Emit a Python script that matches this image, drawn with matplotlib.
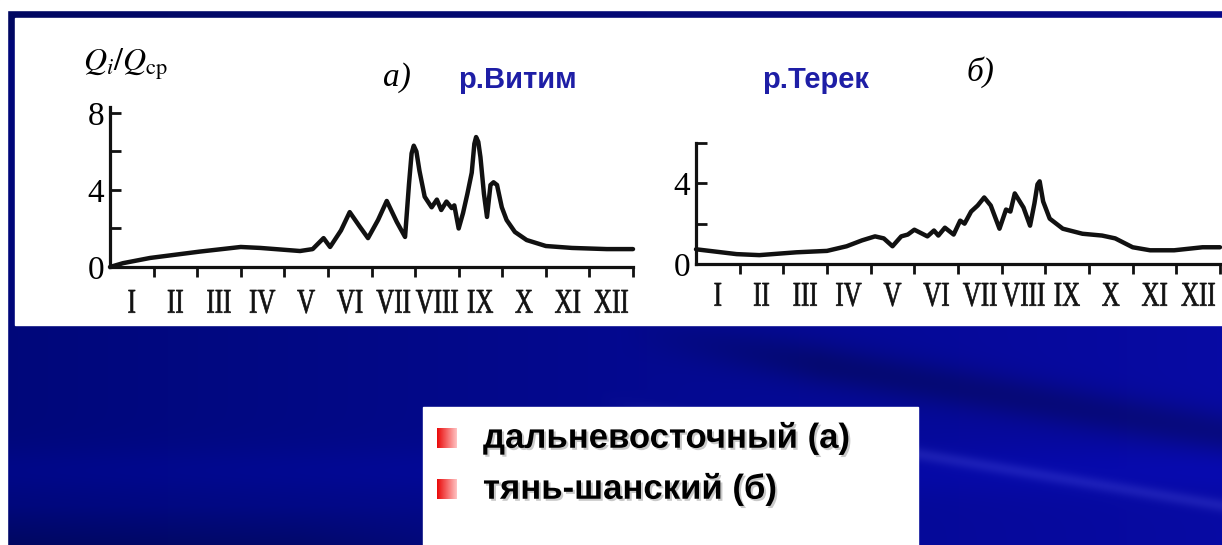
import numpy as np
import matplotlib.pyplot as plt
from matplotlib.patches import Rectangle, PathPatch
from matplotlib.textpath import TextPath
from matplotlib.font_manager import FontProperties
import matplotlib.transforms as mtransforms
import matplotlib.patheffects as pe

W, H = 1222, 545

# mean daily runoff, Q_i / Q_cp, month 0..12 from 1 January
vitim_month = [0.0, 0.3, 0.92, 2.06, 3.0, 3.45, 4.36, 4.65, 4.9, 5.05, 5.3, 5.5,
               5.73, 5.92, 6.15, 6.35, 6.58, 6.77, 6.86, 6.92, 6.97, 7.03, 7.1,
               7.22, 7.38, 7.5, 7.6, 7.72, 7.84, 7.9, 8.0, 8.1, 8.2, 8.3, 8.36,
               8.4, 8.45, 8.5, 8.58, 8.65, 8.73, 8.8, 8.88, 8.99, 9.1, 9.29, 9.56,
               10.0, 10.6, 11.4, 12.0]
vitim_q = [0.0, 0.2, 0.47, 0.8, 1.04, 0.99, 0.83, 0.93, 1.5, 1.04, 1.9, 2.85,
           2.1, 1.5, 2.44, 3.43, 2.34, 1.56, 4.3, 5.9, 6.3, 6.0, 5.0,
           3.65, 3.1, 3.5, 2.96, 3.4, 3.06, 3.2, 2.0, 2.8, 3.8, 4.9, 6.4,
           6.75, 6.5, 5.7, 3.8, 2.6, 4.26, 4.4, 4.26, 3.1, 2.44, 1.82, 1.4,
           1.09, 0.99, 0.93, 0.93]

terek_month = [0.0, 0.93, 1.45, 2.3, 3.0, 3.45, 3.8, 4.1, 4.3, 4.5, 4.7, 4.85,
               5.0, 5.3, 5.45, 5.55, 5.7, 5.9, 6.05, 6.15, 6.3, 6.45, 6.6, 6.75,
               6.95, 7.1, 7.2, 7.3, 7.5, 7.65, 7.75, 7.82, 7.87, 7.95, 8.1, 8.4,
               8.85, 9.3, 9.6, 10.0, 10.4, 10.95, 11.6, 12.0]
terek_q = [0.73, 0.49, 0.44, 0.58, 0.65, 0.88, 1.17, 1.37, 1.27, 0.88, 1.37, 1.46,
           1.7, 1.37, 1.66, 1.41, 1.8, 1.46, 2.15, 2.0, 2.6, 2.9, 3.3, 2.9,
           1.75, 2.7, 2.6, 3.5, 2.8, 1.9, 3.0, 3.95, 4.1, 3.1, 2.25, 1.75,
           1.5, 1.41, 1.27, 0.83, 0.68, 0.68, 0.83, 0.83]

month_labels = ['I', 'II', 'III', 'IV', 'V', 'VI', 'VII', 'VIII', 'IX', 'X', 'XI', 'XII']
legend_items = ['дальневосточный (а)', 'тянь-шанский (б)']

plt.rcParams['font.family'] = 'Liberation Serif'
plt.rcParams['mathtext.fontset'] = 'stix'

fig = plt.figure(figsize=(W / 100, H / 100), dpi=100)
fig.patch.set_facecolor('white')

# backdrop axes in pixel units
bg = fig.add_axes([0, 0, 1, 1])
bg.set_xlim(0, W)
bg.set_ylim(H, 0)
bg.axis('off')

yy, xx = np.mgrid[0:H, 0:W].astype(float)
t = xx / W
img = np.zeros((H, W, 3))
img[..., 0] = 0.0 + 0.03 * t
img[..., 1] = 0.03 + 0.01 * t
img[..., 2] = 0.48 + 0.16 * t
# dark sweep across the right half
d_dark = yy - (330 + 0.17 * (xx - 620))
img[..., 2] -= 0.14 * np.exp(-(d_dark / 22) ** 2) * np.clip((xx - 620) / 200, 0, 1)
# thin light sweep
d_light = yy - (400 + 0.169 * (xx - 600))
glow = np.exp(-(d_light / 7) ** 2) * np.clip((xx - 600) / 150, 0, 1)
img[..., 0] += 0.08 * glow
img[..., 1] += 0.08 * glow
img[..., 2] += 0.06 * glow
# soft band low on the left, darker bottom
img[..., 2] += 0.05 * np.exp(-((yy - 470) / 25) ** 2)
img[..., 2] -= 0.1 * np.clip((yy - 505) / 40, 0, 1) * np.clip((600 - xx) / 300, 0, 1)
img[:40, :, 2] -= 0.1
bg.imshow(np.clip(img, 0, 1), extent=(0, W, H, 0), aspect='auto', zorder=0)

bg.add_patch(Rectangle((0, 0), W, 10, color='white', zorder=1))
bg.add_patch(Rectangle((0, 0), 7, H, color='white', zorder=1))
bg.add_patch(Rectangle((15, 18), W - 15, 307, color='white', zorder=1))
bg.add_patch(Rectangle((423, 407), 495, H - 407, color='white', zorder=1))

# red bullet squares
bullet = np.zeros((1, 20, 3))
bullet[0, :, 0] = np.linspace(0.92, 1.0, 20)
bullet[0, :, 1] = np.linspace(0.05, 0.75, 20)
bullet[0, :, 2] = np.linspace(0.05, 0.75, 20)
shadow = [pe.withSimplePatchShadow(offset=(1.5, -1.5), shadow_rgbFace='#888888', alpha=0.45)]
for i, item in enumerate(legend_items):
    yc = 438 + i * 51
    bg.imshow(bullet, extent=(437, 457, yc + 10, yc - 10), aspect='auto', zorder=2,
              interpolation='bilinear')
    bg.text(483, yc, item, ha='left', va='center', fontsize=25, fontweight='bold',
            family='Liberation Sans', color='black', zorder=3, path_effects=shadow)

# captions above the graphs
bg.text(83, 64, r'$Q_i/Q_{\rm cp}$', ha='left', va='center', fontsize=23, zorder=3)
bg.text(397, 78, 'а)', ha='center', va='center', fontsize=24, style='italic', zorder=3)
bg.text(980, 72, 'б)', ha='center', va='center', fontsize=24, style='italic', zorder=3)
bg.text(458, 80, 'р.Витим', ha='left', va='center', fontsize=21, fontweight='bold',
        family='Liberation Sans', color='#1e1ea6', zorder=3)
bg.text(762, 80, 'р.Терек', ha='left', va='center', fontsize=21, fontweight='bold',
        family='Liberation Sans', color='#1e1ea6', zorder=3)

serif = FontProperties(family='Liberation Serif')
px_per_pt = fig.dpi / 72.0


def narrow_label(ax, x, s, size, squeeze, drop):
    """Condensed serif label centred on data x, its top `drop` px under the axis."""
    path = TextPath((0, 0), s, size=size, prop=serif)
    ext = path.get_extents()
    tr = (mtransforms.Affine2D()
          .translate(-(ext.x0 + ext.x1) / 2, -ext.y1)
          .scale(squeeze * px_per_pt, px_per_pt)
          .translate(0, -drop)
          + mtransforms.ScaledTranslation(x, 0, ax.get_xaxis_transform()))
    ax.add_artist(PathPatch(path, transform=tr, facecolor='#111111',
                            edgecolor='#111111', lw=0.5, clip_on=False))


def hydrograph(rect, months, q, ymax, yticks, ylabels, drop):
    ax = fig.add_axes(rect)
    ax.set_facecolor('none')
    ax.set_xlim(0, 12)
    ax.set_ylim(0, ymax)
    for side in ('top', 'right'):
        ax.spines[side].set_visible(False)
    for side in ('left', 'bottom'):
        ax.spines[side].set_linewidth(2.3)
        ax.spines[side].set_color('#111111')
    ax.set_xticks(range(1, 13))
    ax.tick_params(axis='x', direction='out', length=7, width=2,
                   labelbottom=False, color='#111111')
    for i, lab in enumerate(month_labels):
        narrow_label(ax, i + 0.5, lab, 25, 0.72, drop)
    ax.set_yticks(yticks)
    ax.set_yticklabels(ylabels, fontsize=24)
    ax.tick_params(axis='y', direction='in', length=8, width=2, pad=4, color='#111111')
    ax.plot(months, q, color='#111111', lw=3.2, solid_joinstyle='round',
            solid_capstyle='round', clip_on=False)
    return ax


hydrograph([110 / W, (H - 267) / H, 523 / W, 160 / H], vitim_month, vitim_q,
           8.31, [0, 2, 4, 6, 8], ['0', '', '4', '', '8'], 23)
hydrograph([696 / W, (H - 264) / H, 524 / W, 121 / H], terek_month, terek_q,
           6.0, [0, 2, 4, 6], ['0', '', '4', ''], 19)

fig.savefig('out.png', dpi=100)
